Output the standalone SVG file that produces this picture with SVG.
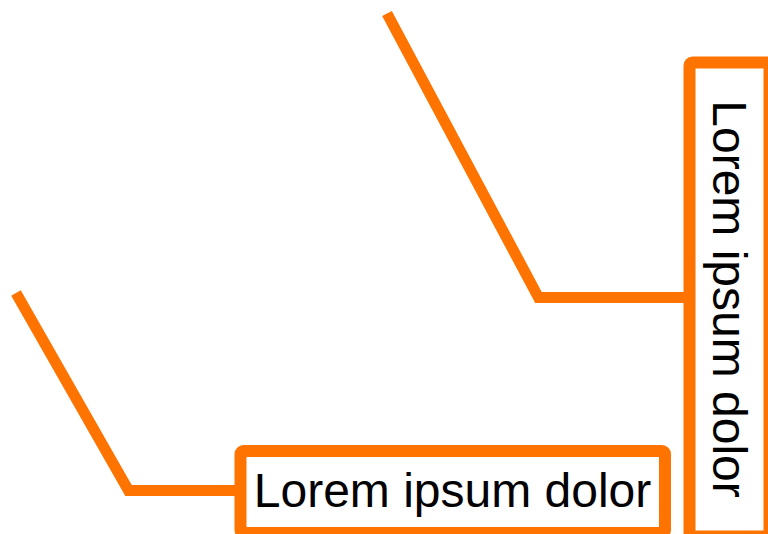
<svg xmlns="http://www.w3.org/2000/svg" width="768" height="534" viewBox="0 0 768 534">
<style>
.ln{fill:none;stroke:#ff7300;stroke-width:11;stroke-linejoin:miter}
.box{fill:#fff;stroke:#ff7300;stroke-width:12;stroke-linejoin:round}
.t{font-family:"Liberation Sans",Arial,sans-serif;font-size:48px;fill:#000;text-anchor:middle}
</style>
<rect width="768" height="534" fill="#fff"/>
<g id="connectors">
<polyline class="ln" points="387,13.5 538.5,297.5 689.5,297.5"/>
<polyline class="ln" points="16,293 128.5,490.5 241,490.5"/>
</g>
<g id="node-vertical">
<rect class="box" x="689.5" y="62.5" width="80" height="474" rx="3"/>
<text class="t" transform="translate(713,299) rotate(90)">Lorem ipsum dolor</text>
</g>
<g id="node-horizontal">
<rect class="box" x="240.5" y="451" width="424.5" height="82" rx="3"/>
<text class="t" x="452.5" y="507">Lorem ipsum dolor</text>
</g>
</svg>
